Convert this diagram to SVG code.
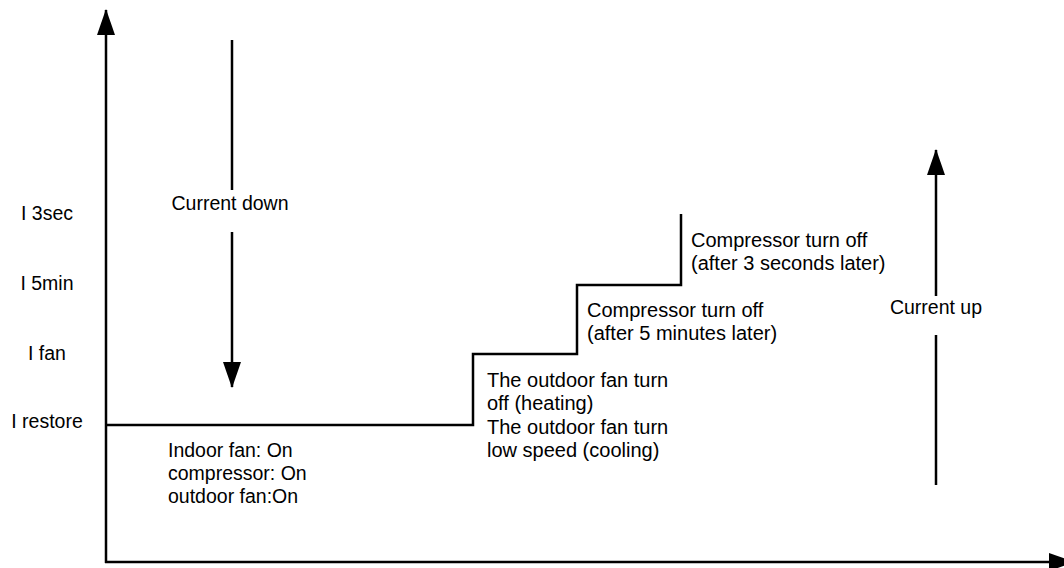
<svg xmlns="http://www.w3.org/2000/svg" width="1064" height="568" viewBox="0 0 1064 568">
<style>
text{font-family:"Liberation Sans",Arial,sans-serif;font-size:19.5px;fill:#000}
.big{font-size:20px}
.ln{stroke:#000;stroke-width:2.5;fill:none}
.mid{text-anchor:middle}
</style>
<defs>
<marker id="ah" viewBox="0 0 26 18" refX="25" refY="9" markerWidth="26" markerHeight="18" markerUnits="userSpaceOnUse" orient="auto">
<path d="M0,0 L26,9 L0,18 Z" fill="#000"/>
</marker>
</defs>
<rect width="1064" height="568" fill="#fff"/>
<g id="connectors">
<line id="y-axis" class="ln" x1="106" y1="563" x2="106" y2="10" marker-end="url(#ah)"/>
<line id="x-axis" class="ln" x1="105" y1="562" x2="1074" y2="562" marker-end="url(#ah)"/>
<polyline id="steps" class="ln" points="106,425 473,425 473,354 577,354 577,285 681,285 681,214"/>
<line class="ln" x1="232" y1="40" x2="232" y2="190"/>
<line class="ln" x1="232" y1="232" x2="232" y2="387" marker-end="url(#ah)"/>
<line class="ln" x1="936" y1="485" x2="936" y2="335"/>
<line class="ln" x1="936" y1="296" x2="936" y2="150" marker-end="url(#ah)"/>
</g>
<g id="labels-y">
<text class="mid" x="47" y="220">I 3sec</text>
<text class="mid" x="47" y="290">I 5min</text>
<text class="mid" x="47" y="360">I fan</text>
<text class="mid" x="47" y="428">I restore</text>
</g>
<g id="current-down"><text class="mid" x="230" y="210">Current down</text></g>
<g id="current-up"><text class="mid" x="936" y="314">Current up</text></g>
<g id="state-normal">
<text x="168" y="457">Indoor fan: On</text>
<text x="168" y="480">compressor: On</text>
<text x="168" y="503">outdoor fan:On</text>
</g>
<g id="state-fan" class="big">
<text class="big" x="487" y="387">The outdoor fan turn</text>
<text class="big" x="487" y="410">off (heating)</text>
<text class="big" x="487" y="434">The outdoor fan turn</text>
<text class="big" x="487" y="457">low speed (cooling)</text>
</g>
<g id="state-5min">
<text class="big" x="587" y="317">Compressor turn off</text>
<text class="big" x="587" y="340">(after 5 minutes later)</text>
</g>
<g id="state-3sec">
<text class="big" x="691" y="247">Compressor turn off</text>
<text class="big" x="691" y="270">(after 3 seconds later)</text>
</g>
</svg>
